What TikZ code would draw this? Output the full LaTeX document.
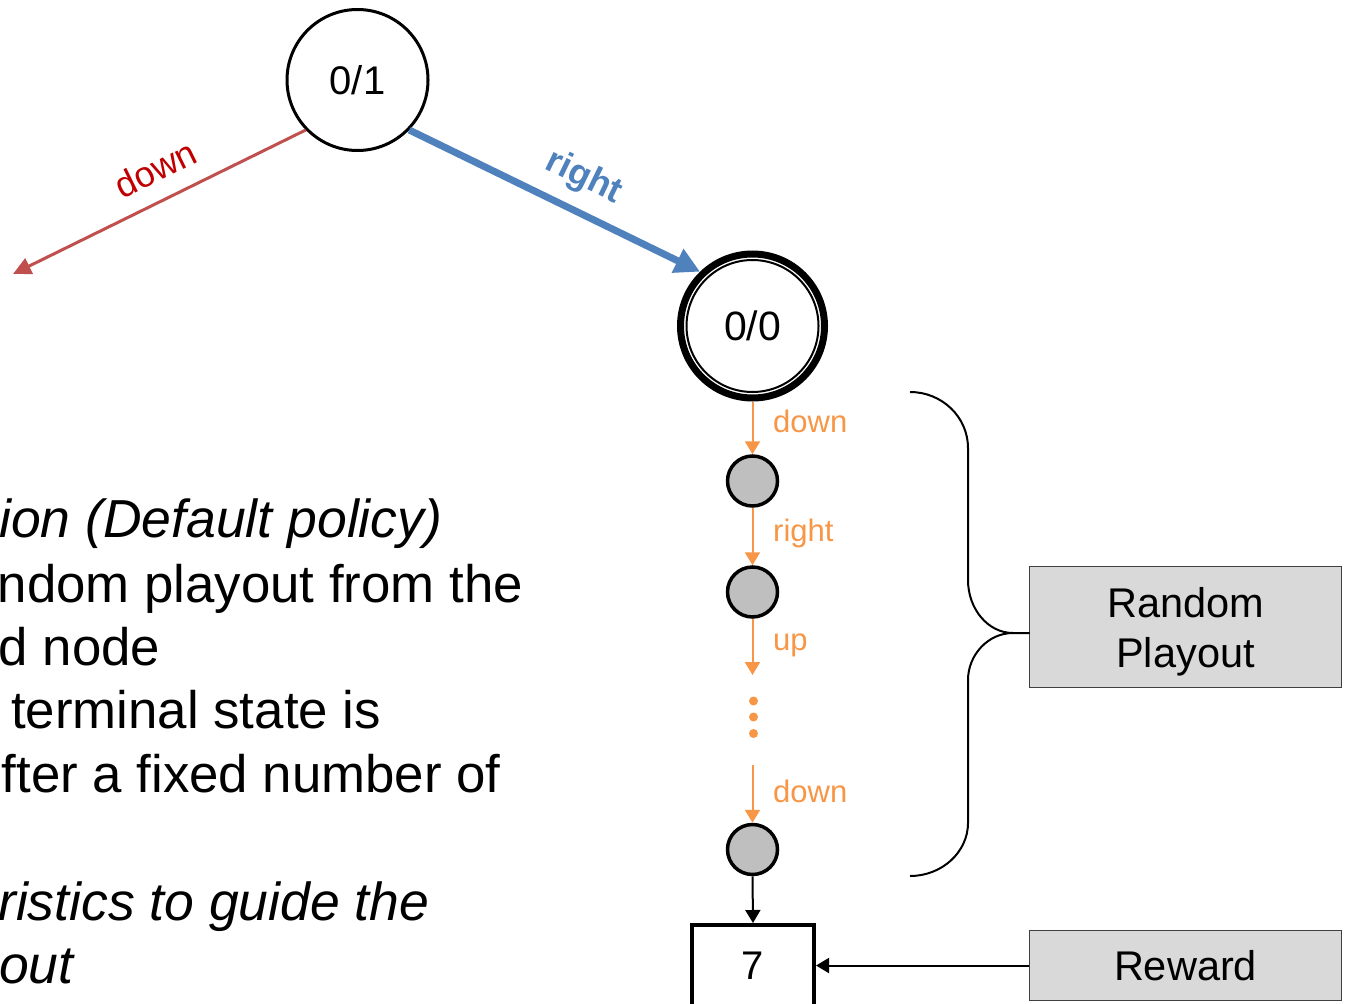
\documentclass[tikz,border=0pt]{standalone}
\usepackage{fontspec}
\setmainfont{Liberation Sans}
\usetikzlibrary{arrows.meta}

\definecolor{pathorange}{HTML}{F79646}
\definecolor{treered}{HTML}{C0504D}
\definecolor{labelred}{HTML}{C00000}
\definecolor{treeblue}{HTML}{4F81BD}
\definecolor{rollgray}{HTML}{BFBFBF}
\definecolor{panelgray}{HTML}{D9D9D9}

\begin{document}
\begin{tikzpicture}[x=1pt,y=-1pt,
  state/.style={circle, draw, line width=3pt, minimum size=141pt, inner sep=0pt,
    font=\fontsize{40}{48}\selectfont},
  rollout/.style={circle, draw, fill=rollgray, line width=3.5pt, minimum size=50pt, inner sep=0pt},
  panel/.style={draw=black!75, fill=panelgray, line width=1.5pt, minimum width=312pt,
    inner sep=0pt, font=\fontsize{41.5}{50}\selectfont},
  steplabel/.style={anchor=base west, inner sep=0pt, text=pathorange,
    font=\fontsize{31}{37}\selectfont},
  steparrow/.style={pathorange, line width=2pt, -{Triangle[length=13pt,width=15pt]}},
  blackarrow/.style={black, line width=2pt, -{Triangle[length=13pt,width=15pt]}},
  bodytext/.style={anchor=base west, inner sep=0pt, font=\fontsize{52.8}{63}\selectfont},
  bodyitalic/.style={bodytext, font=\fontsize{53.5}{63}\selectfont\itshape}]

\useasboundingbox (0,0) rectangle (1348,1003);
\clip (0,0) rectangle (1348,1003);

% tree nodes
\node[state] (n01) at (357.5,80) {0/1};
\node[state, line width=7pt, minimum size=144pt, font=\fontsize{41}{48}\selectfont] (n00) at (752.5,326) {0/0};
\draw[line width=2pt] (n00.center) circle[radius=66pt];

% rollout states
\node[rollout] (g1) at (752.5,481) {};
\node[rollout] (g2) at (752.5,592) {};
\node[rollout] (g3) at (752.5,849.5) {};
\coordinate (upend) at (752.5,675);
\coordinate (resume) at (752.5,765);
\coordinate (downend) at (13,274);

% terminal value and side panels
\node[draw, line width=4pt, minimum width=122pt, minimum height=81pt, inner sep=0pt,
  font=\fontsize{40}{48}\selectfont] (val) at (753,965.5) {7};
\node[panel, minimum height=70pt] (rw) at (1185.5,965.5) {Reward};
\node[panel, minimum height=121pt, align=center] (rp) at (1185.5,627) {\rule{0pt}{39pt}Random\\Playout};
\coordinate (tip) at (1029,633);

% tree edges
\draw[treered, line width=3pt, -{Triangle[length=18pt,width=17pt]}] (n01.224) -- (downend)
  node[pos=0.466, sloped, above=17pt, inner sep=0pt, text=labelred,
    font=\fontsize{36}{42}\selectfont] (lbldown) {down};
\draw[treeblue, line width=7pt, -{Triangle[length=25pt,width=25pt]}] (n01.316) -- (n00.134)
  node[pos=0.55, sloped, above=13pt, inner sep=0pt,
    font=\fontsize{36}{42}\selectfont\bfseries] (lblright) {right};

% rollout chain
\draw[steparrow] (n00.south) -- (g1.north);
\draw[steparrow] (g1.south) -- (g2.north);
\draw[steparrow] (g2.south) -- (upend);
\draw[steparrow] (resume) -- (g3.north);
\fill[pathorange] (753.5,701) circle[radius=4.5pt];
\fill[pathorange] (753.5,717) circle[radius=4.5pt];
\fill[pathorange] (753.5,733.5) circle[radius=4.5pt];
\node[steplabel] (s1) at (773,432) {down};
\node[steplabel] (s2) at (773,541) {right};
\node[steplabel] (s3) at (773,650) {up};
\node[steplabel] (s4) at (773,802) {down};

\draw[blackarrow] (g3.south) -- (val.north);
\draw[blackarrow] (rw.west) -- (val.east);

% brace grouping the rollout
\draw[line width=2pt, line join=round]
  (910,392) .. controls (942,392) and (968,417) .. (968,448) -- (968,580)
  .. controls (968,609) and (988,633) .. (1013,633) -- (tip) -- (1013,633)
  .. controls (988,633) and (968,655) .. (968,680) -- (968,823)
  .. controls (968,852) and (942,876) .. (910,876);

% explanatory text
\node[bodyitalic] (t1) at (-1,537) {ion (Default policy)};
\node[bodytext] (t2) at (-2.5,602) {ndom playout from the};
\node[bodytext] (t3) at (-1.5,665) {d node};
\node[bodytext] (t4) at (11,728) {terminal state is};
\node[bodytext] (t5) at (1.5,792) {fter a fixed number of};
\node[bodyitalic] (t6) at (-2,920) {ristics to guide the};
\node[bodyitalic] (t7) at (-1,983) {out};
\end{tikzpicture}
\end{document}
